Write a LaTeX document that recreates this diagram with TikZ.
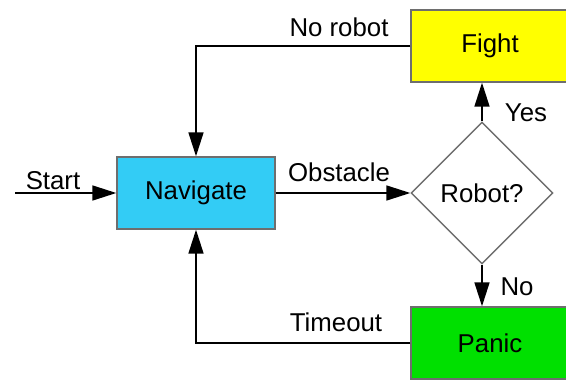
\documentclass[tikz,border=0pt]{standalone}
\usepackage{fontspec}
\setmainfont{Liberation Sans}
\usetikzlibrary{arrows.meta,shapes.geometric}
\definecolor{navcol}{HTML}{33CCF5}
\definecolor{fightcol}{HTML}{FFFF00}
\definecolor{paniccol}{HTML}{00E000}
\definecolor{bordercol}{HTML}{6E6E6E}
\begin{document}
\begin{tikzpicture}[x=1pt,y=-1pt,
  every node/.style={font=\fontsize{25.8}{30}\selectfont},
  statebox/.style={draw=bordercol,line width=1.4pt,minimum width=158pt,minimum height=72pt,inner sep=0pt,anchor=center},
  decision/.style={draw=bordercol,line width=1.4pt,fill=white,shape=diamond,minimum width=142pt,minimum height=142pt,inner sep=0pt},
  conn/.style={line width=1.6pt,-{Triangle[length=24pt,width=15pt]}},
  lbl/.style={inner sep=0pt}]
\clip (0,0) rectangle (566,380);
\useasboundingbox (0,0) rectangle (566,380);
\node[statebox,fill=navcol] (nav) at (196,193) {Navigate};
\node[statebox,fill=fightcol] (fight) at (490,46) {Fight};
\node[statebox,fill=paniccol] (panic) at (490,343) {Panic};
\node[decision] (robot) at (482,193) {Robot?};
\coordinate (start) at (15,193);
\draw[conn] (start) -- (nav.west);
\draw[conn] (nav.east) -- (robot.west);
\draw[conn] (robot.north) -- (robot.north |- fight.south);
\draw[conn] (robot.south) -- (robot.south |- panic.north);
\draw[conn] (fight.west) -| (nav.north);
\draw[conn] (panic.west) -| (nav.south);
\node[lbl] (lstart) at (53,181) {Start};
\node[lbl] (lobst) at (339,172) {Obstacle};
\node[lbl] (lyes) at (526,113) {Yes};
\node[lbl] (lno) at (517,287) {No};
\node[lbl] (lnorobot) at (339,27) {No robot};
\node[lbl] (ltimeout) at (336,322) {Timeout};
\end{tikzpicture}
\end{document}
